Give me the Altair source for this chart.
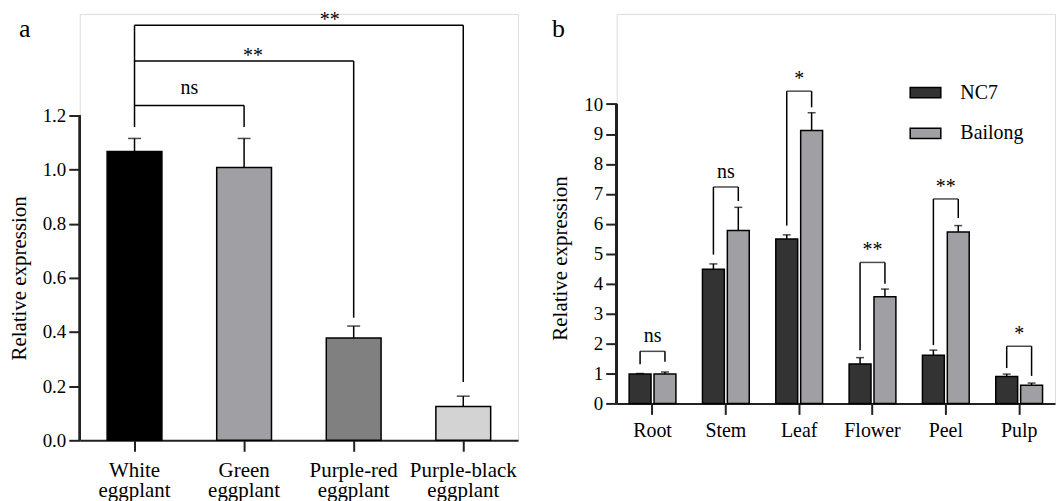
import altair as alt
import pandas as pd

FONT = "Liberation Serif, Times New Roman, Times, serif"
LINE = "#222222"

# ---------------- Panel a data ----------------
cats_a = ["White eggplant", "Green eggplant", "Purple-red eggplant", "Purple-black eggplant"]
means_a = [1.067, 1.008, 0.378, 0.125]
sd_a = [0.048, 0.107, 0.044, 0.038]
colors_a = ["#000000", "#a0a0a4", "#808080", "#d3d3d3"]
yticks_a = [0.0, 0.2, 0.4, 0.6, 0.8, 1.0, 1.2]

cmp_left_a = "White eggplant"
cmp_right_a = ["Green eggplant", "Purple-red eggplant", "Purple-black eggplant"]
cmp_level_a = [1.237, 1.401, 1.533]
cmp_drop_a = [1.157, 0.453, 0.215]
cmp_left_drop_a = 1.157
cmp_label_a = ["ns", "**", "**"]

# ---------------- Panel b data ----------------
tissues = ["Root", "Stem", "Leaf", "Flower", "Peel", "Pulp"]
genotypes = ["NC7", "Bailong"]
colors_b = ["#333333", "#a0a0a4"]
nc7 = [0.98, 4.48, 5.49, 1.32, 1.61, 0.90]
nc7_sd = [0.02, 0.18, 0.14, 0.21, 0.17, 0.08]
bailong = [0.98, 5.78, 9.12, 3.56, 5.73, 0.61]
bailong_sd = [0.07, 0.77, 0.59, 0.26, 0.21, 0.07]
yticks_b = [0.0, 1.0, 2.0, 3.0, 4.0, 5.0, 6.0, 7.0, 8.0, 9.0, 10.0]

cmp_level_b = [1.74, 7.23, 10.43, 4.71, 6.83, 1.91]
cmp_nc7_drop_b = [1.31, 4.97, 5.94, 1.78, 1.95, 1.18]
cmp_bai_drop_b = [1.39, 6.76, 9.89, 4.00, 6.19, 0.92]
cmp_label_b = ["ns", "ns", "*", "**", "**", "*"]

# ---------------- Panel a ----------------
df_a = pd.DataFrame({"cat": cats_a, "mean": means_a,
                     "hi": [m + s for m, s in zip(means_a, sd_a)]})
YMAX_A = 1.575
H_A = 428
SX_A = alt.Scale(domain=cats_a, paddingInner=0.5, paddingOuter=0.25)
xa = alt.X("cat:N", scale=SX_A,
           axis=alt.Axis(title=None, labelAngle=0, labelFont=FONT, labelFontSize=21,
                         labelColor="black", labelExpr="split(datum.label, ' ')",
                         labelLineHeight=20, labelPadding=8, tickSize=11, tickWidth=2,
                         tickColor=LINE, domainWidth=2, domainColor=LINE))
AX_A = alt.Axis(values=yticks_a, format=".1f", domain=False, grid=False,
                tickSize=11, tickWidth=2, tickColor=LINE, labelOverlap=False,
                labelFont=FONT, labelFontSize=19, labelColor="black", labelPadding=3,
                title="Relative expression", titleFont=FONT, titleFontSize=21,
                titleFontWeight="normal", titleColor="black",
                titleX=-54, titleY=265, titleBaseline="alphabetic")
SY_A = alt.Scale(domain=[0, YMAX_A], nice=False)
ya = alt.Y("mean:Q", scale=SY_A, axis=AX_A)

bars_a = alt.Chart(df_a).mark_bar(stroke="black", strokeWidth=1.5).encode(
    x=xa, y=ya,
    color=alt.Color("cat:N", scale=alt.Scale(domain=cats_a, range=colors_a), legend=None))
err_a = alt.Chart(df_a).mark_rule(color="black", strokeWidth=1.5).encode(
    x=alt.X("cat:N", scale=SX_A), y=ya, y2="hi:Q")
cap_a = alt.Chart(df_a).mark_tick(color="black", thickness=1.5, size=13).encode(
    x=alt.X("cat:N", scale=SX_A), y=alt.Y("hi:Q", scale=SY_A, axis=AX_A))
yline_a = alt.Chart(df_a).mark_rule(color=LINE, strokeWidth=2).encode(
    x=alt.value(0), y=alt.datum(0), y2=alt.datum(max(yticks_a)))

br_a = pd.DataFrame({"left": [cmp_left_a] * 3, "right": cmp_right_a,
                     "level": cmp_level_a, "drop": cmp_drop_a, "label": cmp_label_a})
hbr_a = alt.Chart(br_a).mark_rule(color="black", strokeWidth=1.5).encode(
    x=alt.X("left:N", scale=SX_A), x2="right:N", y=alt.Y("level:Q", scale=SY_A, axis=AX_A))
vbr_a = alt.Chart(br_a).mark_rule(color="black", strokeWidth=1.5).encode(
    x=alt.X("right:N", scale=SX_A), y=alt.Y("drop:Q", scale=SY_A, axis=AX_A), y2="level:Q")
lbr_a = alt.Chart(pd.DataFrame({"c": [cmp_left_a], "lo": [cmp_left_drop_a],
                                "hi": [max(cmp_level_a)]})).mark_rule(
    color="black", strokeWidth=1.5).encode(
    x=alt.X("c:N", scale=SX_A), y=alt.Y("lo:Q", scale=SY_A, axis=AX_A), y2="hi:Q")

label_dx_a = [55, 119, 196]
label_dy_a = [-11, 1, 1]
lab_layers_a = []
for i in range(len(cmp_label_a)):
    lab_layers_a.append(
        alt.Chart(br_a.iloc[[i]]).mark_text(font=FONT, fontSize=20, color="black",
                                            dx=label_dx_a[i], dy=label_dy_a[i],
                                            baseline="alphabetic").encode(
            x=alt.X("left:N", scale=SX_A), y=alt.Y("level:Q", scale=SY_A, axis=AX_A),
            text="label:N"))

tag_a = alt.Chart(df_a.iloc[[0]]).mark_text(font=FONT, fontSize=26, color="black",
                                            align="left", baseline="alphabetic").encode(
    x=alt.value(-61), y=alt.value(23), text=alt.datum("a"))

panel_a = alt.layer(bars_a, err_a, cap_a, yline_a, hbr_a, vbr_a, lbr_a,
                    *lab_layers_a, tag_a).properties(width=440, height=H_A)

# ---------------- Panel b ----------------
rows = []
for i, t in enumerate(tissues):
    rows.append({"tissue": t, "geno": "NC7", "mean": nc7[i], "hi": nc7[i] + nc7_sd[i]})
    rows.append({"tissue": t, "geno": "Bailong", "mean": bailong[i], "hi": bailong[i] + bailong_sd[i]})
df_b = pd.DataFrame(rows)

YMAX_B = 13.01
H_B = 391
SX_B = alt.Scale(domain=tissues, paddingInner=0.362, paddingOuter=0.17)
xb = alt.X("tissue:N", scale=SX_B,
           axis=alt.Axis(title=None, labelAngle=0, labelFont=FONT, labelFontSize=20,
                         labelColor="black", labelPadding=6, tickSize=11, tickWidth=2,
                         tickColor=LINE, domainWidth=2, domainColor=LINE))
xob = alt.XOffset("geno:N", scale=alt.Scale(domain=genotypes, paddingInner=0.12, paddingOuter=0))
AX_B = alt.Axis(values=yticks_b, format=".0f", domain=False, grid=False, labelOverlap=False,
                labelBound=False, tickCount=11, tickSize=11, tickWidth=2, tickColor=LINE,
                labelFont=FONT, labelFontSize=19, labelColor="black", labelPadding=3,
                title="Relative expression", titleFont=FONT, titleFontSize=21,
                titleFontWeight="normal", titleColor="black",
                titleX=-50, titleY=245, titleBaseline="alphabetic")
SY_B = alt.Scale(domain=[0, YMAX_B], nice=False)
yb = alt.Y("mean:Q", scale=SY_B, axis=AX_B)

bars_b = alt.Chart(df_b).mark_bar(stroke="black", strokeWidth=1.5).encode(
    x=xb, xOffset=xob, y=yb,
    color=alt.Color("geno:N",
                    scale=alt.Scale(domain=genotypes, range=colors_b),
                    legend=alt.Legend(title=None, orient="none", legendX=299, legendY=68,
                                      direction="vertical", labelFont=FONT, labelFontSize=20,
                                      labelColor="black", symbolType="M-1.5,-0.5H1.5V0.5H-1.5Z",
                                      symbolSize=420, symbolStrokeColor="black",
                                      symbolStrokeWidth=1.5, symbolOpacity=1, rowPadding=20,
                                      labelOffset=24, padding=0)))
err_b = alt.Chart(df_b).mark_rule(color="black", strokeWidth=1.5).encode(
    x=alt.X("tissue:N", scale=SX_B), xOffset=xob, y=yb, y2="hi:Q")
cap_b = alt.Chart(df_b).mark_tick(color="black", thickness=1.5, size=8).encode(
    x=alt.X("tissue:N", scale=SX_B), xOffset=xob, y=alt.Y("hi:Q", scale=SY_B, axis=AX_B))
yline_b = alt.Chart(df_b).mark_rule(color=LINE, strokeWidth=2).encode(
    x=alt.value(0), y=alt.datum(0), y2=alt.datum(max(yticks_b)))

brows = []
for i, t in enumerate(tissues):
    brows.append({"tissue": t, "geno": "NC7", "drop": cmp_nc7_drop_b[i], "level": cmp_level_b[i]})
    brows.append({"tissue": t, "geno": "Bailong", "drop": cmp_bai_drop_b[i], "level": cmp_level_b[i]})
bdf_b = pd.DataFrame(brows)
ldf_b = pd.DataFrame({"tissue": tissues, "level": cmp_level_b, "label": cmp_label_b})

vbr_b = alt.Chart(bdf_b).mark_rule(color="black", strokeWidth=1.5).encode(
    x=alt.X("tissue:N", scale=SX_B), xOffset=xob,
    y=alt.Y("drop:Q", scale=SY_B, axis=AX_B), y2="level:Q")
hbr_b = alt.Chart(ldf_b).mark_tick(color="black", thickness=1.5, size=25).encode(
    x=alt.X("tissue:N", scale=SX_B), y=alt.Y("level:Q", scale=SY_B, axis=AX_B))
lab_ns_b = alt.Chart(ldf_b).transform_filter("datum.label == 'ns'").mark_text(
    font=FONT, fontSize=20, color="black", dy=-9, baseline="alphabetic").encode(
    x=alt.X("tissue:N", scale=SX_B), y=alt.Y("level:Q", scale=SY_B, axis=AX_B), text="label:N")
lab_st_b = alt.Chart(ldf_b).transform_filter("datum.label != 'ns'").mark_text(
    font=FONT, fontSize=20, color="black", dy=-6, baseline="alphabetic").encode(
    x=alt.X("tissue:N", scale=SX_B), y=alt.Y("level:Q", scale=SY_B, axis=AX_B), text="label:N")

tag_b = alt.Chart(ldf_b.iloc[[0]]).mark_text(font=FONT, fontSize=26, color="black",
                                             align="left", baseline="alphabetic").encode(
    x=alt.value(-65), y=alt.value(23), text=alt.datum("b"))

panel_b = alt.layer(bars_b, err_b, cap_b, yline_b, vbr_b, hbr_b, lab_ns_b, lab_st_b,
                    tag_b).properties(width=440, height=H_B)

chart = alt.hconcat(panel_a, panel_b, spacing=99, bounds="flush").resolve_scale(
    color="independent"
).properties(padding=0).configure_view(stroke=None).configure_axisY(
    labelOverlap=False
).configure(background="white")

chart.save("out.html", embed_options={"renderer": "svg", "actions": False})
